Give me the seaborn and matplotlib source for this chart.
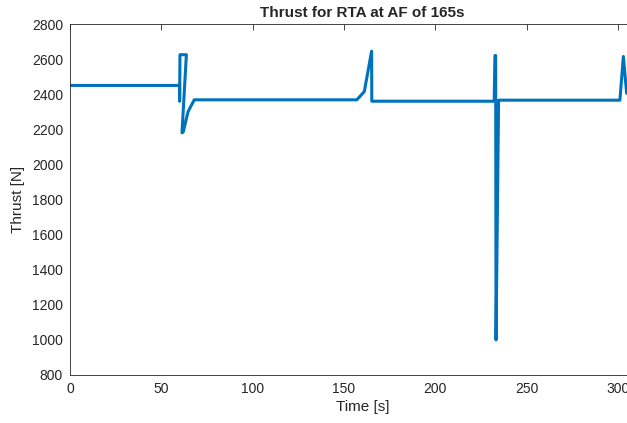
import numpy as np
import pandas as pd
import matplotlib
matplotlib.use('Agg')
import matplotlib.pyplot as plt
import seaborn as sns

# datos (tiempo en s, empuje en N)
tiempo = [0, 60.0, 60.0, 60.2, 63.7, 61.3, 62.0, 64.6, 68.0,
          157.0, 161.1, 165.1, 165.2, 232.2, 232.6, 233.0, 233.2,
          234.6, 301.0, 302.9, 304.7]
empuje = [2450, 2450, 2360, 2625, 2625, 2180, 2185, 2300, 2368,
          2368, 2415, 2645, 2360, 2360, 2620, 2620, 1000,
          2366, 2366, 2615, 2405]

titulo = 'Thrust for RTA at AF of 165s'
xticks = [0, 50, 100, 150, 200, 250, 300]
yticks = list(range(800, 2801, 200))

df = pd.DataFrame({'Time': tiempo, 'Thrust': empuje})

sns.set_style('white')
plt.rcParams['font.family'] = ['Liberation Sans', 'DejaVu Sans']

fig = plt.figure(figsize=(6.27, 4.23), dpi=100)
ax = fig.add_axes([70 / 627, 1 - 375 / 423, 584.6 / 627, 351 / 423])

sns.lineplot(data=df, x='Time', y='Thrust', sort=False, estimator=None,
             color='#0072BD', linewidth=2.2, ax=ax)

ax.set_xlim(0, 320)
ax.set_ylim(800, 2800)
ax.set_xticks(xticks)
ax.set_yticks(yticks)
ax.tick_params(direction='in', length=4, width=0.6, colors='#262626',
               labelsize=10, top=True, right=True, pad=5)
for s in ax.spines.values():
    s.set_color('#262626')
    s.set_linewidth(0.6)

ax.set_title(titulo, fontsize=11, fontweight='bold', pad=5)
ax.set_xlabel('Time [s]', fontsize=11, color='#262626', labelpad=3)
ax.set_ylabel('Thrust [N]', fontsize=11, color='#262626', labelpad=5)

fig.savefig('out.png', dpi=100)
